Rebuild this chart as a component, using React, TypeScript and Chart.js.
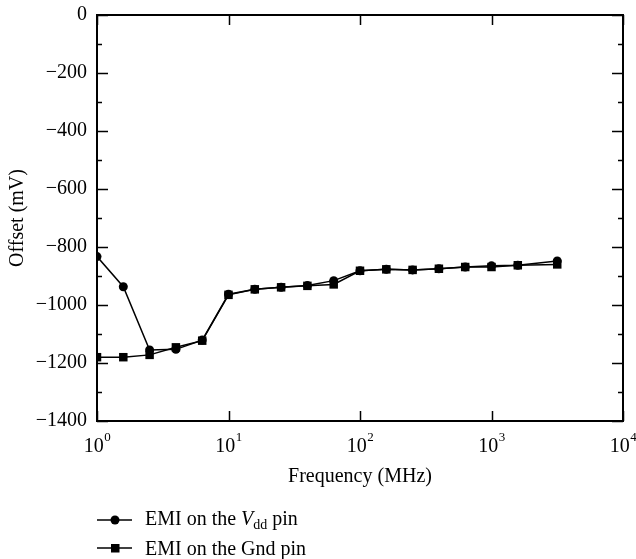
import React, { useEffect, useRef } from "react";
import { Chart, registerables } from "chart.js";

Chart.register(...registerables);

const frequencies = [1, 1.585, 2.512, 3.981, 6.31, 10, 15.85, 25.12, 39.81, 63.1, 100, 158.5, 251.2, 398.1, 631, 1000, 1585, 3162];
const vddOffset = [-833, -937, -1155, -1153, -1121, -963, -946, -939, -933, -916, -882, -877, -879, -875, -869, -865, -863, -848];
const gndOffset = [-1180, -1180, -1172, -1146, -1123, -965, -946, -939, -934, -929, -882, -877, -879, -875, -869, -869, -863, -860];
const xTickValues = [1, 10, 100, 1000, 10000];
const xTickBase = "10";
const xTickExponents = ["0", "1", "2", "3", "4"];
const yMin = -1400;
const yMax = 0;
const yMajorStep = 200;
const yMinorStep = 100;

const FONT = "'Liberation Serif', 'Times New Roman', serif";
const FONT_SIZE = 20;

const frameAndTicks = {
  id: "frameAndTicks",
  afterDraw(chart: any) {
    const { ctx, chartArea, scales } = chart;
    const { left, right, top, bottom } = chartArea;
    ctx.save();
    ctx.strokeStyle = "#000";
    ctx.lineWidth = 1.5;
    // y ticks, both sides, pointing inward
    for (let v = yMax; v >= yMin; v -= yMinorStep) {
      const y = Math.round(scales.y.getPixelForValue(v)) + 0.5;
      const len = v % yMajorStep === 0 ? 11 : 5;
      ctx.beginPath();
      ctx.moveTo(left, y);
      ctx.lineTo(left + len, y);
      ctx.moveTo(right, y);
      ctx.lineTo(right - len, y);
      ctx.stroke();
    }
    // x ticks at decades, top and bottom
    for (const v of xTickValues) {
      const x = Math.round(scales.x.getPixelForValue(v)) + 0.5;
      ctx.beginPath();
      ctx.moveTo(x, bottom);
      ctx.lineTo(x, bottom - 10);
      ctx.moveTo(x, top);
      ctx.lineTo(x, top + 10);
      ctx.stroke();
    }
    ctx.lineWidth = 2;
    ctx.strokeRect(left, top, right - left, bottom - top);

    // x tick labels as 10 with a raised exponent
    ctx.fillStyle = "#000";
    ctx.textBaseline = "alphabetic";
    ctx.textAlign = "left";
    const baseFont = `${FONT_SIZE}px ${FONT}`;
    const supFont = `13px ${FONT}`;
    xTickValues.forEach((v, i) => {
      const x = scales.x.getPixelForValue(v);
      ctx.font = baseFont;
      const wb = ctx.measureText(xTickBase).width;
      ctx.font = supFont;
      const ws = ctx.measureText(xTickExponents[i]).width;
      const x0 = x - (wb + ws) / 2;
      ctx.font = baseFont;
      ctx.fillText(xTickBase, x0, bottom + 31);
      ctx.font = supFont;
      ctx.fillText(xTickExponents[i], x0 + wb + 0.5, bottom + 20);
    });
    ctx.restore();
  },
};

function LegendGlyph({ shape }: { shape: "circle" | "square" }) {
  return (
    <svg width={36} height={12} style={{ display: "block" }}>
      <line x1={0} y1={6} x2={35} y2={6} stroke="#000" strokeWidth={1.5} />
      {shape === "circle" ? (
        <circle cx={18} cy={6} r={4.5} fill="#000" />
      ) : (
        <rect x={14} y={2} width={8.5} height={8.5} fill="#000" />
      )}
    </svg>
  );
}

export default function App() {
  const canvasRef = useRef<HTMLCanvasElement | null>(null);

  useEffect(() => {
    const canvas = canvasRef.current;
    if (!canvas) return;
    const chart = new Chart(canvas, {
      type: "line",
      data: {
        datasets: [
          {
            label: "EMI on the Vdd pin",
            data: frequencies.map((f, i) => ({ x: f, y: vddOffset[i] })),
            borderColor: "#000",
            backgroundColor: "#000",
            borderWidth: 1.5,
            pointStyle: "circle",
            pointRadius: 4.5,
            pointHoverRadius: 4.5,
            pointBorderWidth: 0,
            tension: 0,
          },
          {
            label: "EMI on the Gnd pin",
            data: frequencies.map((f, i) => ({ x: f, y: gndOffset[i] })),
            borderColor: "#000",
            backgroundColor: "#000",
            borderWidth: 1.5,
            pointStyle: "rect",
            pointRadius: 6,
            pointHoverRadius: 6,
            pointBorderWidth: 0,
            tension: 0,
          },
        ],
      },
      options: {
        responsive: false,
        animation: false,
        devicePixelRatio: 1,
        layout: { padding: { top: 15, right: 13, bottom: 68, left: 0 } },
        plugins: {
          legend: { display: false },
          tooltip: { enabled: false },
        },
        scales: {
          x: {
            type: "logarithmic",
            min: 1,
            max: 10000,
            grid: { display: false },
            border: { display: false },
            afterBuildTicks: (scale: any) => {
              scale.ticks = xTickValues.map((v) => ({ value: v }));
            },
            afterFit: (scale: any) => {
              scale.height = 70;
              scale.paddingLeft = 0;
              scale.paddingRight = 0;
              scale.paddingTop = 0;
              scale.paddingBottom = 0;
            },
            ticks: { display: false },
            title: {
              display: true,
              text: "Frequency (MHz)",
              color: "#000",
              font: { family: FONT, size: FONT_SIZE },
              padding: { top: 0, bottom: 2 },
            },
          },
          y: {
            type: "linear",
            min: yMin,
            max: yMax,
            grid: { display: false, drawTicks: false },
            border: { display: false },
            afterFit: (scale: any) => {
              scale.width = 97;
              scale.paddingTop = 0;
              scale.paddingBottom = 0;
              scale.paddingLeft = 0;
              scale.paddingRight = 0;
            },
            ticks: {
              stepSize: yMajorStep,
              padding: 10,
              color: "#000",
              font: { family: FONT, size: FONT_SIZE },
              callback: (value: any) => {
                const v = Number(value);
                return v < 0 ? "\u2212" + Math.abs(v) : String(v);
              },
            },
            title: {
              display: true,
              text: "Offset (mV)",
              color: "#000",
              font: { family: FONT, size: FONT_SIZE },
              padding: { top: 6, bottom: 0 },
            },
          },
        },
      },
      plugins: [frameAndTicks],
    } as any);
    return () => chart.destroy();
  }, []);

  const rowStyle: React.CSSProperties = {
    position: "absolute",
    left: 97,
    display: "flex",
    alignItems: "center",
    height: 24,
    fontFamily: FONT,
    fontSize: FONT_SIZE,
    color: "#000",
    whiteSpace: "nowrap",
  };

  return (
    <div style={{ position: "absolute", left: 0, top: 0, width: 636, height: 559, background: "#fff" }}>
      <canvas ref={canvasRef} width={636} height={559} style={{ display: "block", width: 636, height: 559 }} />
      <div style={{ ...rowStyle, top: 508 }}>
        <LegendGlyph shape="circle" />
        <span style={{ marginLeft: 12 }}>
          EMI on the <i>V</i>
          <sub style={{ fontSize: 14, verticalAlign: "-4px" }}>dd</sub> pin
        </span>
      </div>
      <div style={{ ...rowStyle, top: 536 }}>
        <LegendGlyph shape="square" />
        <span style={{ marginLeft: 12 }}>EMI on the Gnd pin</span>
      </div>
    </div>
  );
}
